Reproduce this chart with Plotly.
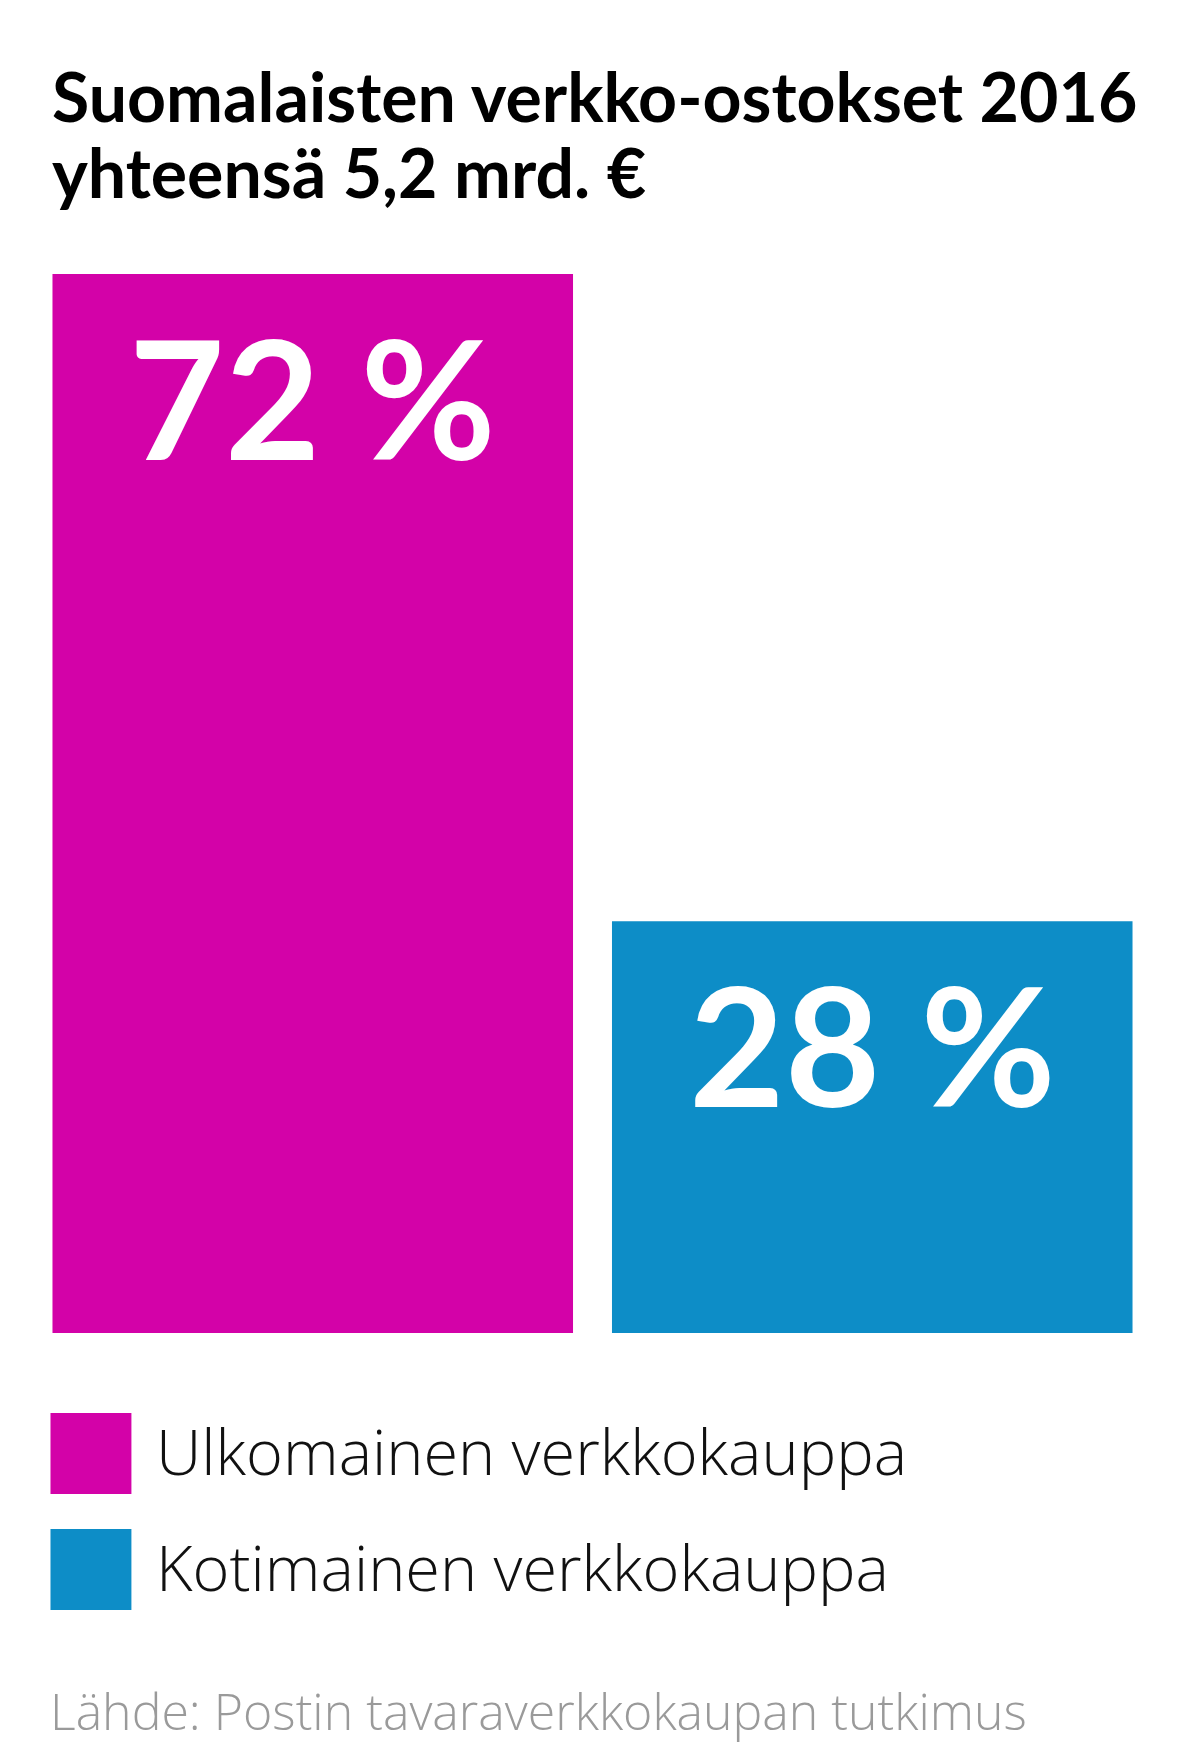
import plotly.graph_objects as go

# Data
categories = ["Ulkomainen verkkokauppa", "Kotimainen verkkokauppa"]
shares = [72, 28]
labels = ["72 %", "28 %"]
colors = ["#D302A8", "#0D8DC7"]

title_lines = ["Suomalaisten verkko-ostokset 2016", "yhteensä 5,2 mrd. €"]
source = "Lähde: Postin tavaraverkkokaupan tutkimus"

W, H = 1199, 1761
L, R, T, B = 24.5, 54.5, 266, 436
PW, PH = W - L - R, H - T - B


def px(x):
    return (x - L) / PW


def py(y):
    return (H - B - y) / PH


fig = go.Figure(go.Bar(
    x=categories, y=shares,
    marker=dict(color=colors, line=dict(width=0)),
    hoverinfo="skip",
))

# value labels inside the top of each bar
for cat, val, lab in zip(categories, shares, labels):
    fig.add_annotation(x=cat, y=val, xref="x", yref="y", text=lab,
                       showarrow=False, yanchor="middle", yshift=-122,
                       font=dict(family="Lato", size=165, color="white", weight=700))

# title, two lines
for i, line in enumerate(title_lines):
    fig.add_annotation(x=px(42), y=py(87 + 76 * i), xref="paper", yref="paper",
                       text=line, showarrow=False, xanchor="left", yanchor="middle",
                       font=dict(family="Lato", size=68, color="#000000", weight=700))

# legend: big squares + labels
legend_mid = [1445, 1561]
for cat, col, ym in zip(categories, colors, legend_mid):
    fig.add_shape(type="rect", xref="paper", yref="paper",
                  x0=px(42), x1=px(123), y0=py(ym - 40), y1=py(ym + 41),
                  fillcolor=col, line=dict(width=0))
    fig.add_annotation(x=px(146), y=py(ym - 3), xref="paper", yref="paper",
                       text=cat, showarrow=False, xanchor="left", yanchor="middle",
                       font=dict(family="Open Sans", size=63, color="#111111", weight=300))

# source
fig.add_annotation(x=px(40), y=py(1703), xref="paper", yref="paper",
                   text=source, showarrow=False, xanchor="left", yanchor="middle",
                   font=dict(family="Open Sans", size=50, color="#9a9a9a", weight=300))

fig.update_layout(
    width=W, height=H,
    margin=dict(l=L, r=R, t=T, b=B, pad=0),
    paper_bgcolor="white", plot_bgcolor="white",
    bargap=39 / 560,
    showlegend=False,
    xaxis=dict(visible=False),
    yaxis=dict(visible=False, range=[0, 72]),
)

fig.write_html("out.html")
